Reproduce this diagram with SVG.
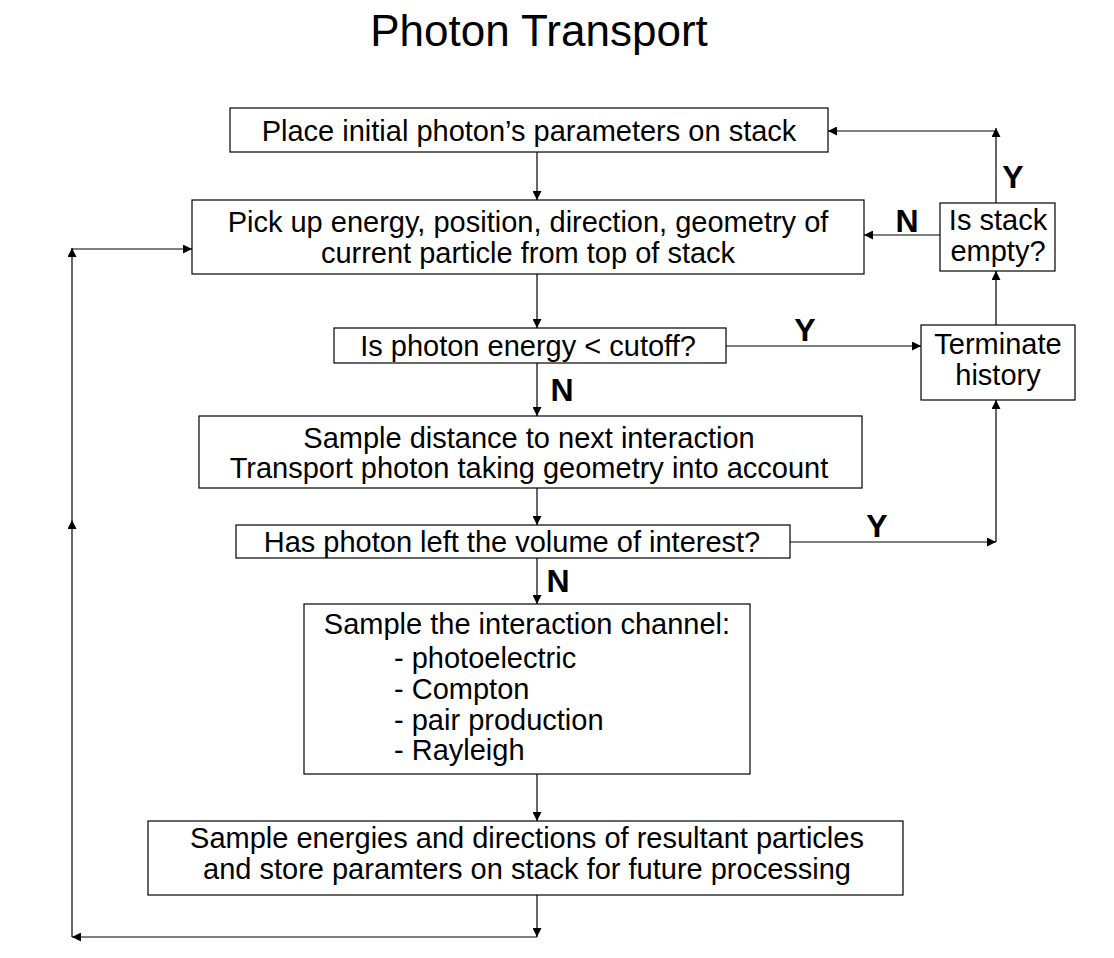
<svg xmlns="http://www.w3.org/2000/svg" width="1114" height="958" viewBox="0 0 1114 958">
<style>
.box{fill:#fff;stroke:#000;stroke-width:1.2}
.t{font-family:"Liberation Sans",Arial,sans-serif;font-size:29px;fill:#000}
.c{text-anchor:middle}
.lbl{font-family:"Liberation Sans",Arial,sans-serif;font-size:32px;font-weight:bold;fill:#000;text-anchor:middle}
.ln{fill:none;stroke:#000;stroke-width:1.2;marker-end:url(#ah)}
</style>
<defs>
<marker id="ah" viewBox="0 0 10 10" refX="10" refY="5" markerWidth="11" markerHeight="9" markerUnits="userSpaceOnUse" orient="auto">
<path d="M0,0 L10,5 L0,10 z" fill="#000"/>
</marker>
</defs>
<rect width="1114" height="958" fill="#fff"/>
<text x="539" y="46" class="c" font-family="Liberation Sans, Arial, sans-serif" font-size="44">Photon Transport</text>

<g id="connectors">
<line class="ln" x1="537" y1="152" x2="537" y2="200"/>
<line class="ln" x1="537" y1="274" x2="537" y2="328"/>
<line class="ln" x1="537" y1="363" x2="537" y2="416"/>
<line class="ln" x1="537" y1="488" x2="537" y2="525"/>
<line class="ln" x1="537" y1="558" x2="537" y2="604"/>
<line class="ln" x1="537" y1="774" x2="537" y2="821"/>
<line class="ln" x1="537" y1="895" x2="537" y2="937"/>
<line class="ln" x1="537" y1="937" x2="72" y2="937"/>
<line class="ln" x1="72" y1="937" x2="72" y2="520"/>
<line class="ln" x1="72" y1="520" x2="72" y2="248"/>
<line class="ln" x1="72" y1="249" x2="192" y2="249"/>
<line class="ln" x1="726" y1="346" x2="921" y2="346"/>
<line class="ln" x1="790" y1="542" x2="996" y2="542"/>
<line class="ln" x1="996" y1="542" x2="996" y2="400"/>
<line class="ln" x1="996" y1="325" x2="996" y2="271"/>
<line class="ln" x1="940" y1="235" x2="864" y2="235"/>
<line class="ln" x1="996" y1="203" x2="996" y2="128"/>
<line class="ln" x1="996" y1="131" x2="828" y2="131"/>
<text class="lbl" x="1013" y="188">Y</text>
<text class="lbl" x="907" y="232">N</text>
<text class="lbl" x="805" y="341">Y</text>
<text class="lbl" x="562" y="401">N</text>
<text class="lbl" x="877" y="537">Y</text>
<text class="lbl" x="558" y="592">N</text>
</g>

<g id="place-initial">
<rect class="box" x="230" y="108" width="598" height="44"/>
<text class="t c" x="529" y="141">Place initial photon’s parameters on stack</text>
</g>
<g id="pick-up">
<rect class="box" x="192" y="200" width="672" height="74"/>
<text class="t c" x="528" y="232">Pick up energy, position, direction, geometry of</text>
<text class="t c" x="528" y="263">current particle from top of stack</text>
</g>
<g id="stack-empty">
<rect class="box" x="940" y="203" width="115" height="68"/>
<text class="t c" x="998" y="230">Is stack</text>
<text class="t c" x="998" y="261">empty?</text>
</g>
<g id="terminate">
<rect class="box" x="921" y="325" width="154" height="75"/>
<text class="t c" x="998" y="354">Terminate</text>
<text class="t c" x="998" y="385">history</text>
</g>
<g id="cutoff">
<rect class="box" x="334" y="328" width="392" height="35"/>
<text class="t c" x="528" y="356">Is photon energy &lt; cutoff?</text>
</g>
<g id="sample-distance">
<rect class="box" x="199" y="416" width="663" height="72"/>
<text class="t c" x="529" y="448">Sample distance to next interaction</text>
<text class="t c" x="529" y="478">Transport photon taking geometry into account</text>
</g>
<g id="left-volume">
<rect class="box" x="236" y="525" width="554" height="33"/>
<text class="t c" x="512" y="552">Has photon left the volume of interest?</text>
</g>
<g id="interaction">
<rect class="box" x="304" y="604" width="446" height="170"/>
<text class="t c" x="527" y="634">Sample the interaction channel:</text>
<text class="t" x="394" y="668">- photoelectric</text>
<text class="t" x="394" y="699">- Compton</text>
<text class="t" x="394" y="730">- pair production</text>
<text class="t" x="394" y="760">- Rayleigh</text>
</g>
<g id="resultant">
<rect class="box" x="148" y="821" width="755" height="74"/>
<text class="t c" x="527" y="848">Sample energies and directions of resultant particles</text>
<text class="t c" x="527" y="879">and store paramters on stack for future processing</text>
</g>
</svg>
